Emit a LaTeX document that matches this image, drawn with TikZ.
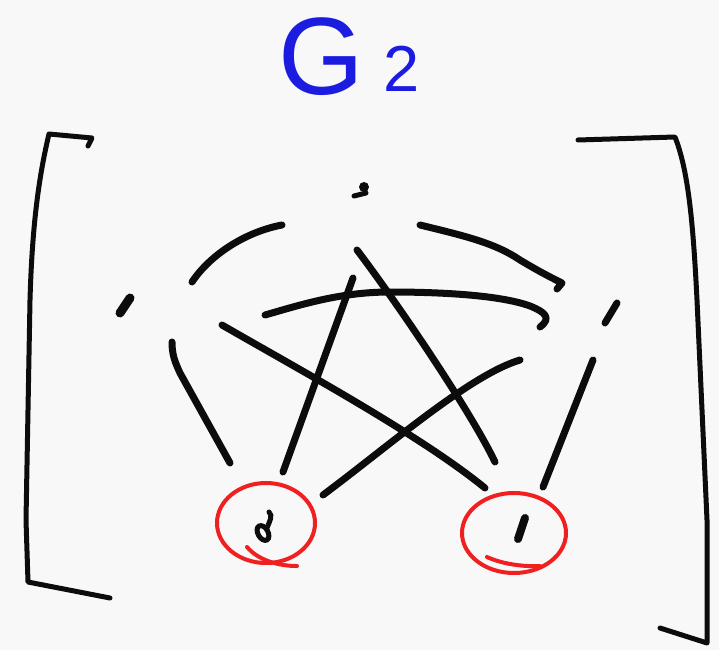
\documentclass[tikz,border=0pt]{standalone}
\usepackage{fontspec}
\setmainfont{Liberation Sans}
\usetikzlibrary{calc,shapes.geometric}
\definecolor{ink}{RGB}{12,12,12}
\definecolor{penred}{RGB}{240,32,32}
\definecolor{penblue}{RGB}{28,28,225}
\definecolor{paper}{RGB}{248,248,248}
\tikzset{
 edgeline/.style={ink, line width=7pt, line cap=round, line join=round},
 bracketline/.style={ink, line width=5pt, line cap=round, line join=round},
 vmark/.style={ink, line width=7pt, line cap=round},
 ring/.style={penred, line width=4pt, line cap=round},
 ringnode/.style={ring, draw, ellipse, inner sep=0pt},
 vertex/.style={inner sep=0pt, minimum size=0pt},
 titletext/.style={penblue, anchor=base, inner sep=0pt},
}
\begin{document}
\begin{tikzpicture}[x=1pt,y=-1pt]
\fill[paper] (0,0) rectangle (719,650);
\useasboundingbox (0,0) rectangle (719,650);

% title
\node[titletext, font=\fontsize{110}{110}\selectfont] (title) at (321,95) {G};
\node[titletext, font=\fontsize{65}{65}\selectfont] (titlesub) at (402,92) {2};

% brackets
\draw[bracketline] (88,146) -- (92,138) -- (49,134) .. controls (38,180) and (32,230) .. (30,300) -- (26,520) -- (28,582) -- (110,598);
\draw[bracketline] (578,140) -- (675,137) .. controls (688,170) and (693,220) .. (697,300) -- (707,520) -- (707,643) -- (660,628);

% vertices
\node[vertex] (T) at (360,190) {};
\node[vertex] (L) at (125,305) {};
\node[vertex] (R) at (611,312) {};
\node[vertex] (BL) at (265,530) {};
\node[vertex] (BR) at (521,528) {};

% vertex marks
\fill[ink] ($(T)+(4,-3)$) circle (5);
\draw[vmark, line width=5pt] ($(T)+(-6,6)$) -- ($(T)+(6,3)$);
\draw[vmark, line width=9pt] ($(L)+(-5,8)$) -- ($(L)+(5,-7)$);
\draw[vmark] ($(R)+(-6,11)$) -- ($(R)+(6,-9)$);
\draw[ink, line width=5pt, rotate around={30:(263,533)}] (263,533) ellipse (5 and 8);
\draw[vmark, line width=5pt] ($(BL)+(2,-2)$) .. controls ($(BL)+(5,-10)$) and ($(BL)+(8,-14)$) .. ($(BL)+(4,-18)$);
\draw[vmark, line width=8pt] ($(BR)+(4,-10)$) -- ($(BR)+(-3,11)$);

% red rings
\node[ringnode, minimum width=98pt, minimum height=80pt] (ringBL) at (266,523) {};
\draw[ring] (247,547) .. controls (258,560) and (278,566) .. (297,566);
\node[ringnode, minimum width=104pt, minimum height=80pt] (ringBR) at (514,533) {};
\draw[ring] (487,557) .. controls (500,563) and (520,567) .. (540,566);

% edges (free ends, drawn with gaps at the vertices)
\coordinate (tl1) at (282,225); \coordinate (tl2) at (192,282);
\draw[edgeline] (tl1) .. controls (245,232) and (210,255) .. (tl2);

\coordinate (tr1) at (420,225); \coordinate (tr2) at (557,289);
\draw[edgeline] (tr1) .. controls (465,236) and (495,243) .. (520,260)
  .. controls (540,272) and (552,278) .. (562,283) -- (tr2);

\coordinate (lr1) at (265,315); \coordinate (lr2) at (540,327);
\draw[edgeline] (lr1) .. controls (300,305) and (340,292) .. (390,292)
  .. controls (440,292) and (500,295) .. (530,306)
  .. controls (545,312) and (552,318) .. (lr2);

\coordinate (tbl1) at (353,278); \coordinate (tbl2) at (283,472);
\draw[edgeline] (tbl1) -- (tbl2);

\coordinate (tbr1) at (357,250); \coordinate (tbr2) at (495,462);
\draw[edgeline] (tbr1) .. controls (395,300) and (470,410) .. (tbr2);

\coordinate (lbl1) at (172,342); \coordinate (lbl2) at (230,463);
\draw[edgeline] (lbl1) .. controls (172,355) and (175,362) .. (180,373) -- (lbl2);

\coordinate (lbr1) at (222,325); \coordinate (lbr2) at (485,488);
\draw[edgeline] (lbr1) .. controls (300,370) and (420,435) .. (lbr2);

\coordinate (rbl1) at (520,360); \coordinate (rbl2) at (323,495);
\draw[edgeline] (rbl2) .. controls (390,445) and (470,375) .. (rbl1);

\coordinate (rbr1) at (593,360); \coordinate (rbr2) at (543,487);
\draw[edgeline] (rbr1) -- (rbr2);
\end{tikzpicture}
\end{document}
